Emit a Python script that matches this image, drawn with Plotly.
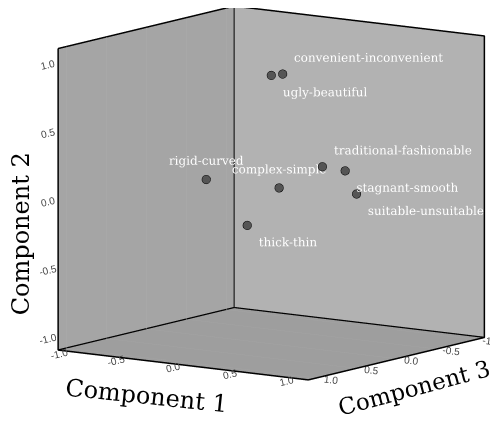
import plotly.graph_objects as go

# ---- data ----
labels = ["convenient-inconvenient", "ugly-beautiful", "traditional-fashionable",
          "stagnant-smooth", "complex-simple", "suitable-unsuitable",
          "rigid-curved", "thick-thin"]
comp1 = [0.17, 0.07, 0.66, 0.86, 0.42, 0.89, -0.08, 0.21]
comp2 = [0.90, 0.88, 0.30, 0.29, 0.15, 0.11, 0.19, -0.13]
comp3 = [0.10, 0.10, 0.30, 0.30, 0.50, 0.20, 0.70, 0.60]
label_pos = ["top right", "bottom right", "top right", "bottom right",
             "top center", "bottom right", "top center", "bottom right"]
tick_vals = [-1.0, -0.5, 0.0, 0.5, 1.0]
tick_text = ["-1.0", "-0.5", "0.0", "0.5", "1.0"]
axis_range = [-1.1, 1.1]

lo, hi = axis_range
# box outline of the three back planes (x=Comp3, y=Comp1, z=Comp2)
ex = [hi, lo, lo, lo, hi, hi, hi, None, lo, lo, hi, None, lo, lo]
ey = [lo, lo, hi, hi, hi, lo, lo, None, lo, lo, lo, None, lo, hi]
ez = [hi, hi, hi, lo, lo, lo, hi, None, hi, lo, lo, None, lo, lo]

fig = go.Figure()
fig.add_trace(go.Scatter3d(x=ex, y=ey, z=ez, mode="lines",
                           line=dict(color="black", width=3),
                           hoverinfo="skip", showlegend=False))
fig.add_trace(go.Scatter3d(
    x=comp3, y=comp1, z=comp2, mode="markers+text",
    text=labels, textposition=label_pos,
    textfont=dict(family="DejaVu Serif", size=12, color="white"),
    marker=dict(size=5, color="rgb(85,85,85)", line=dict(color="black", width=1)),
    hoverinfo="skip", showlegend=False))

axis_common = dict(range=axis_range, tickvals=tick_vals, ticktext=tick_text,
                   title=dict(text=""), showspikes=False, showbackground=True,
                   zeroline=False, showline=False, ticks="",
                   tickfont=dict(family="Liberation Sans", size=11, color="rgb(70,70,70)"))

d = 2.0
a = 1.45
cx, cy, cz = 0.0225, -0.032, -0.125
fig.update_layout(
    width=498, height=422, margin=dict(l=0, r=0, t=0, b=0),
    paper_bgcolor="white",
    scene=dict(
        domain=dict(x=[0.025, 1.0], y=[0.0, 1.0]),
        aspectmode="manual",
        aspectratio=dict(x=a, y=a, z=a),
        xaxis=dict(axis_common, backgroundcolor="rgb(178,178,178)",
                   showgrid=True, gridcolor="rgb(172,172,172)", gridwidth=1),
        yaxis=dict(axis_common, backgroundcolor="rgb(165,165,165)",
                   showgrid=False),
        zaxis=dict(axis_common, backgroundcolor="rgb(158,158,158)",
                   showgrid=False),
        camera=dict(eye=dict(x=0.806 * d + cx, y=0.567 * d + cy, z=0.1695 * d + cz),
                    up=dict(x=0, y=0, z=1), center=dict(x=cx, y=cy, z=cz),
                    projection=dict(type="orthographic")),
    ),
    annotations=[
        dict(text="Component 2", x=0.026, y=0.466, xref="paper", yref="paper",
             xanchor="center", yanchor="middle",
             showarrow=False, textangle=-90,
             font=dict(family="DejaVu Serif", size=24, color="black")),
        dict(text="Component 1", x=0.279, y=0.08, xref="paper", yref="paper",
             xanchor="center", yanchor="middle",
             showarrow=False, textangle=6,
             font=dict(family="DejaVu Serif", size=24, color="black")),
        dict(text="Component 3", x=0.815, y=0.10, xref="paper", yref="paper",
             xanchor="center", yanchor="middle",
             showarrow=False, textangle=-15,
             font=dict(family="DejaVu Serif", size=23, color="black")),
    ],
)
fig.write_html("out.html")
